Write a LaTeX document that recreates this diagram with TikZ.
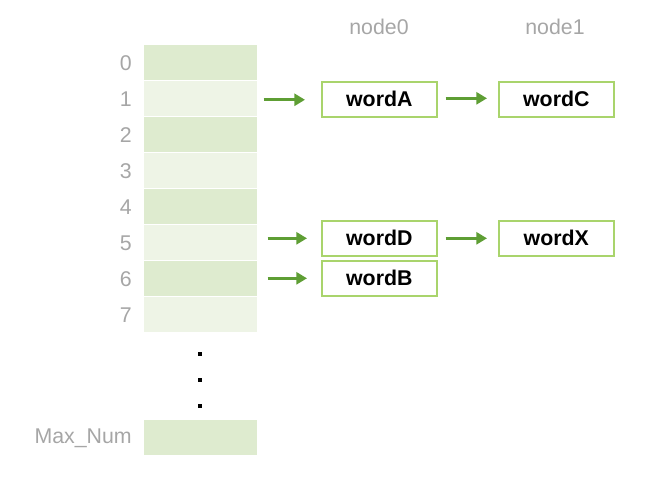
\documentclass[tikz,border=0pt]{standalone}
\usepackage{fontspec}
\setmainfont{Liberation Sans}
\usetikzlibrary{arrows.meta}
\definecolor{cellA}{HTML}{DEEBCF}
\definecolor{cellB}{HTML}{EEF4E6}
\definecolor{lblgray}{HTML}{A6A6A6}
\definecolor{boxgreen}{HTML}{A9D46C}
\definecolor{arrgreen}{HTML}{5E9E34}
\begin{document}
\begin{tikzpicture}[x=0.75pt,y=-0.75pt,
  cell/.style={draw=none,minimum width=113*0.75pt,minimum height=35*0.75pt,inner sep=0pt,anchor=north west},
  idx/.style={text=lblgray,font=\fontsize{16}{18}\selectfont,anchor=east,inner sep=0pt},
  hdr/.style={text=lblgray,font=\fontsize{16}{18}\selectfont,inner sep=0pt},
  word/.style={draw=boxgreen,line width=1.2pt,fill=white,minimum width=115*0.75pt,minimum height=35*0.75pt,inner sep=0pt,font=\bfseries\fontsize{16}{18}\selectfont,anchor=north west},
  arr/.style={draw=arrgreen,line width=2.3pt,-{Triangle[length=8pt,width=9pt]}},
  dot/.style={fill=black,minimum size=2.5pt,inner sep=0pt}]
\useasboundingbox (0,0) rectangle (666,479);
% cells
\foreach \i/\c in {0/cellA,1/cellB,2/cellA,3/cellB,4/cellA,5/cellB,6/cellA,7/cellB}{
  \node[cell,fill=\c] (r\i) at (144,{45+36*\i}) {};
  \node[idx] (l\i) at (132,{63+36*\i}) {\i};
}
\node[cell,fill=cellA] (rmax) at (144,420) {};
\node[idx] (lmax) at (132,438) {Max\_Num};
% dots
\node[dot] (d1) at (200,354) {};
\node[dot] (d2) at (200,380) {};
\node[dot] (d3) at (200,406) {};
% headers
\node[hdr] (h0) at (379,27) {node0};
\node[hdr] (h1) at (555,27) {node1};
% word boxes
\node[word] (wA) at (321,81) {wordA};
\node[word] (wC) at (498,81) {wordC};
\node[word] (wD) at (321,220) {wordD};
\node[word] (wX) at (498,220) {wordX};
\node[word] (wB) at (321,260) {wordB};
% arrows
\draw[arr,shorten <=6*0.75pt,shorten >=16*0.75pt] ([yshift=-1*0.75pt]r1.east) -- ([yshift=-1*0.75pt]r1.east -| wA.west);
\draw[arr,shorten <=8*0.75pt,shorten >=11*0.75pt] ([yshift=1*0.75pt]wA.east) -- ([yshift=1*0.75pt]wC.west);
\draw[arr,shorten <=10*0.75pt,shorten >=14*0.75pt] (r5.east |- wD.west) -- (wD.west);
\draw[arr,shorten <=8*0.75pt,shorten >=11*0.75pt] (wD.east) -- (wX.west);
\draw[arr,shorten <=10*0.75pt,shorten >=14*0.75pt] (r6.east |- wB.west) -- (wB.west);
\end{tikzpicture}
\end{document}
